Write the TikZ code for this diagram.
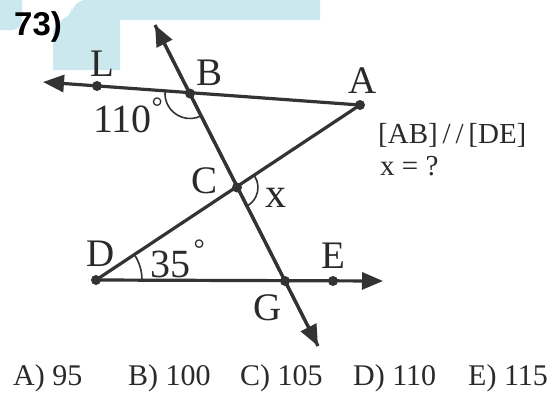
\documentclass[tikz,border=0pt]{standalone}
\usepackage{fontspec}
\setmainfont{Liberation Serif}
\newfontfamily\headfont{Liberation Sans}
\usetikzlibrary{arrows.meta}
\definecolor{ink}{HTML}{333333}
\definecolor{txt}{HTML}{2A2A2A}
\definecolor{wm}{HTML}{CBE8EE}
\newcommand{\degsign}[1]{\raisebox{#1}{\fontsize{28}{30}\selectfont °}}
\begin{document}
\begin{tikzpicture}[x=1pt,y=-1pt,
  dot/.style={circle,fill=ink,inner sep=0pt,minimum size=10pt},
  ray/.style={draw=ink,line width=3.2pt,-{Triangle[length=21pt,width=17pt]}},
  seg/.style={draw=ink,line width=3.2pt},
  anglearc/.style={draw=ink,line width=1.6pt},
  lbl/.style={text=txt,inner sep=0pt,anchor=base,font=\fontsize{39}{41}\selectfont},
  num/.style={text=txt,inner sep=0pt,anchor=base west,font=\fontsize{40}{42}\selectfont},
  note/.style={text=txt,inner sep=0pt,anchor=base west,font=\fontsize{29}{31}\selectfont},
  ans/.style={text=txt,inner sep=0pt,anchor=base west,font=\fontsize{30}{32}\selectfont}]
\useasboundingbox (0,0) rectangle (555,394);
\fill[white] (0,0) rectangle (555,394);
% watermark
\fill[wm] (72,0) -- (320,0) -- (320,20) -- (120,20) -- (120,70) -- (53,70) [rounded corners=14pt] -- (53,20) -- (72,20) -- cycle;
\fill[wm,rounded corners=10pt] (-12,-12) rectangle (22,30);
% points
\coordinate (Ltip) at (43,82);
\node[dot] (L) at (97,86) {};
\node[dot] (B) at (190,93.5) {};
\node[dot] (A) at (360,105) {};
\coordinate (Ttip) at (155,25);
\node[dot] (C) at (237,187.5) {};
\node[dot] (D) at (96,280) {};
\node[dot] (G) at (285,281) {};
\node[dot] (E) at (333,281) {};
\coordinate (Rtip) at (383,281);
\coordinate (Btip) at (318,346);
% lines
\draw[ray] (A.center) -- (Ltip);
\draw[ray] (Btip) -- (Ttip);
\draw[ray] (Ttip) -- (Btip);
\draw[seg] (A.center) -- (D.center);
\draw[ray] (D.center) -- (Rtip);
% angle arcs
\draw[anglearc] ([shift={(63.2:25)}]B.center) arc[start angle=63.2,end angle=185.5,radius=25];
\draw[anglearc] ([shift={(-33.7:21)}]C.center) arc[start angle=-33.7,end angle=63.4,radius=21];
\draw[anglearc] ([shift={(-33.6:46)}]D.center) arc[start angle=-33.6,end angle=0,radius=46];
% labels
\node[lbl] (Llbl) at (102,76) {L};
\node[lbl] (Blbl) at (210,85) {B};
\node[lbl] (Albl) at (363,93) {A};
\node[lbl] (Clbl) at (205,193) {C};
\node[lbl,font=\fontsize{42}{44}\selectfont] (xlbl) at (276,207) {x};
\node[lbl] (Dlbl) at (101,266) {D};
\node[lbl] (Elbl) at (333,268) {E};
\node[lbl] (Glbl) at (268,320) {G};
\node[num] (a110) at (93,132) {110\kern0pt\degsign{16pt}};
\node[num] (a35) at (150,277) {35\kern3.4pt\degsign{19pt}};
\node[note] (par) at (378,143) {[AB]\,/\,/\,[DE]};
\node[note] (q) at (380,175) {x = ?};
\node[text=black,inner sep=0pt,anchor=base west,font=\headfont\bfseries\fontsize{33}{35}\selectfont] (num) at (14,35) {73)};
% answers
\node[ans] (aA) at (13,385) {A) 95};
\node[ans] (aB) at (128,385) {B) 100};
\node[ans] (aC) at (240,385) {C) 105};
\node[ans] (aD) at (353,385) {D) 110};
\node[ans] (aE) at (468,385) {E) 115};
\end{tikzpicture}
\end{document}
